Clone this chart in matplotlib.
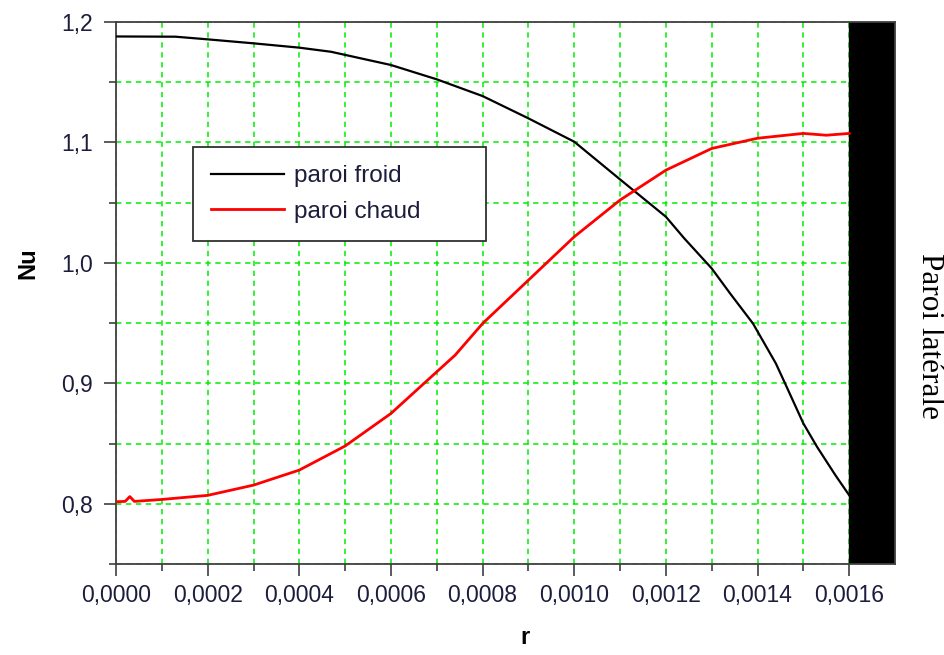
#!/usr/bin/env python3
# -*- coding: utf-8 -*-
# Nusselt number along the hot and cold walls, r from axis to side wall

from matplotlib import pyplot as plt
from matplotlib.ticker import MultipleLocator, FixedLocator, FuncFormatter

# cold wall (paroi froide)
r_froid = [0.0, 0.00013, 0.0002, 0.0003, 0.0004, 0.000469, 0.0006, 0.0007,
           0.0008, 0.0009, 0.0010, 0.0011, 0.0012, 0.00124, 0.0013, 0.00134,
           0.00139, 0.00144, 0.00146, 0.0015, 0.00153, 0.00157, 0.0016]
nu_froid = [1.188, 1.1878, 1.1856, 1.1823, 1.1787, 1.1753, 1.1643, 1.1524,
            1.1385, 1.120, 1.1006, 1.0693, 1.0383, 1.0204, 0.9954, 0.9747,
            0.9497, 0.9165, 0.900, 0.8667, 0.8472, 0.8237, 0.8071]

# hot wall (paroi chaude)
r_chaud = [0.0, 0.00002, 0.00003, 0.00004, 0.0001, 0.0002, 0.0003, 0.0004,
           0.0005, 0.0006, 0.00068, 0.00074, 0.0008, 0.0009, 0.0010, 0.0011,
           0.0012, 0.0013, 0.0014, 0.0015, 0.00155, 0.0016]
nu_chaud = [0.8017, 0.802, 0.806, 0.802, 0.8036, 0.807, 0.8155, 0.828,
            0.848, 0.875, 0.9027, 0.9234, 0.9497, 0.9857, 1.0217, 1.0522,
            1.077, 1.095, 1.1035, 1.1075, 1.106, 1.1075]

labels = ['paroi froid', 'paroi chaud']

# side wall drawn as a black band
r_wall = 0.0016
r_max = 0.0017
x_minor = [0.0001, 0.0003, 0.0005, 0.0007, 0.0009, 0.0011, 0.0013, 0.0015]


def main():
    plt.rcParams['font.family'] = 'Liberation Sans'
    fig = plt.figure(figsize=(9.45, 6.55), dpi=100)
    ax = fig.add_axes([0.1228, 0.1389, 0.8243, 0.8275])

    ax.plot(r_froid, nu_froid, color='black', lw=1.6, label=labels[0], zorder=3)
    ax.plot(r_chaud, nu_chaud, color='red', lw=2.0, label=labels[1], zorder=3)

    # the lateral wall
    ax.axvspan(r_wall, r_max, color='black', zorder=2)

    ax.set_xlim(0, r_max)
    ax.set_ylim(0.75, 1.2)

    # ticks
    ax.xaxis.set_major_locator(MultipleLocator(0.0002))
    ax.xaxis.set_minor_locator(FixedLocator(x_minor))
    ax.yaxis.set_major_locator(MultipleLocator(0.1))
    ax.yaxis.set_minor_locator(MultipleLocator(0.05))
    ax.xaxis.set_major_formatter(FuncFormatter(lambda v, p: ('%.4f' % v).replace('.', ',')))
    ax.yaxis.set_major_formatter(FuncFormatter(lambda v, p: ('%.1f' % v).replace('.', ',')))
    ax.tick_params(which='major', direction='out', length=8.5, width=1.2,
                   color='#404040', labelsize=16.5, labelcolor='#1c1c3c')
    ax.tick_params(which='minor', direction='out', length=5, width=1.2, color='#404040')
    ax.tick_params(axis='y', which='major', pad=8)
    ax.tick_params(axis='x', which='major', pad=6)

    # green dashed grid
    ax.grid(True, which='both', color='#00ee00', lw=1.1, dashes=(3.5, 3))

    for s in ax.spines.values():
        s.set_color('#404040')
        s.set_linewidth(1.3)

    ax.set_xlabel('r', fontsize=17, fontweight='bold')
    ax.set_ylabel('Nu', fontsize=17, fontweight='bold')
    ax.xaxis.set_label_coords(0.525, -0.115)
    ax.yaxis.set_label_coords(-0.098, 0.555)

    leg = ax.legend(loc='upper left', bbox_to_anchor=(0.099, 0.603, 0.376, 0.166),
                    mode='expand', borderaxespad=0, fontsize=17.5, frameon=True,
                    fancybox=False, handlelength=3.0, handletextpad=0.4,
                    borderpad=0.75, labelspacing=0.55)
    leg.get_frame().set_edgecolor('#303030')
    leg.get_frame().set_linewidth(1.3)
    leg.get_frame().set_alpha(1)
    for t in leg.get_texts():
        t.set_color('#1c1c3c')

    fig.text(0.984, 0.487, 'Paroi latérale', family='Liberation Serif', fontsize=22.5,
             rotation=270, ha='center', va='center')

    fig.savefig('out.png', dpi=100)


if __name__ == '__main__':
    main()
